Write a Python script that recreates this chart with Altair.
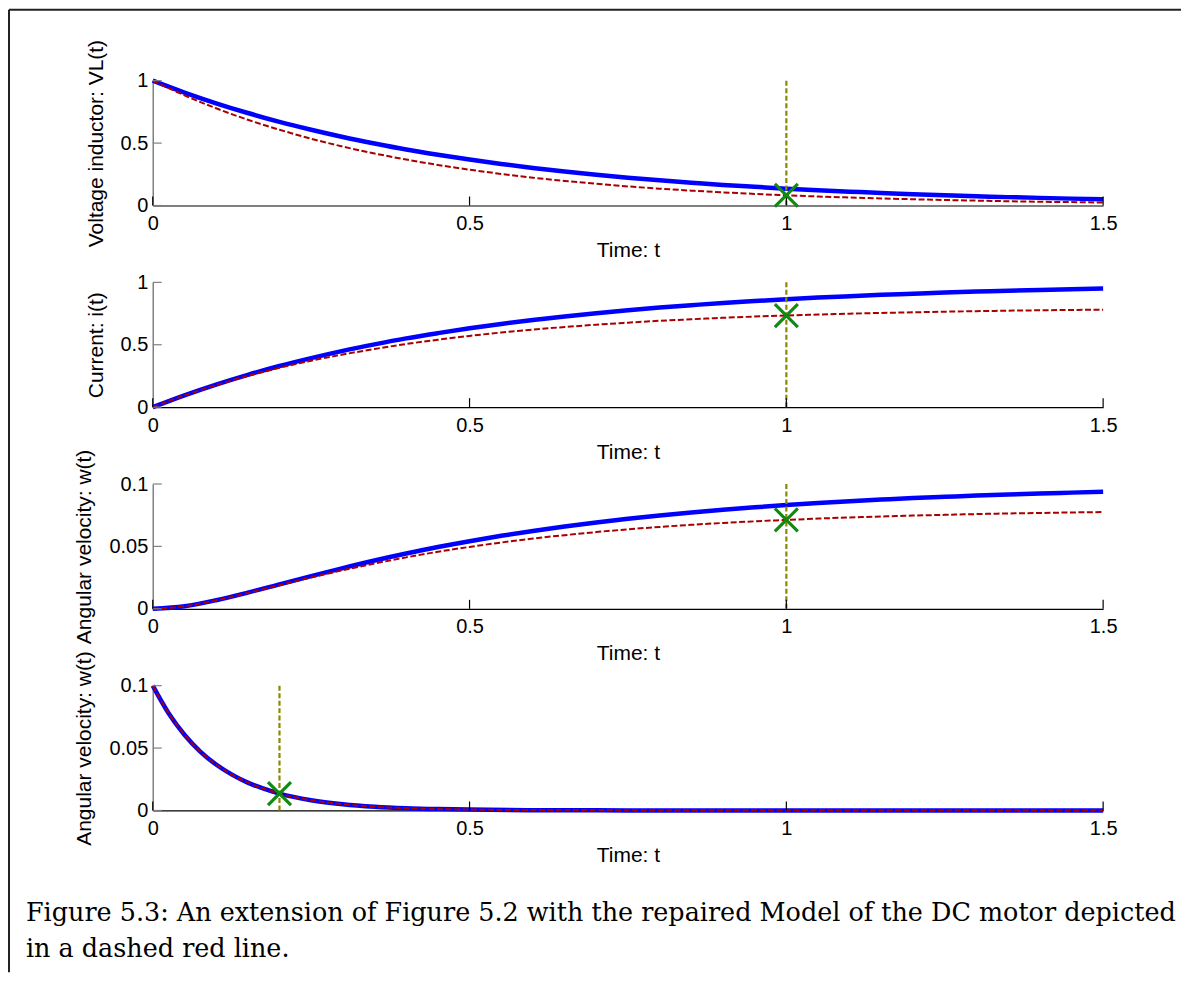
import altair as alt
import pandas as pd

# ---------------- data ----------------
t = [0.0, 0.05, 0.1, 0.15, 0.2, 0.25, 0.3, 0.35, 0.4, 0.45, 0.5, 0.55, 0.6, 0.65, 0.7,
     0.75, 0.8, 0.85, 0.9, 0.95, 1.0, 1.05, 1.1, 1.15, 1.2, 1.25, 1.3, 1.35, 1.4, 1.45, 1.5]

vl_blue = [1.000, 0.905, 0.819, 0.741, 0.670, 0.607, 0.549, 0.497, 0.449, 0.407, 0.368,
           0.333, 0.301, 0.273, 0.247, 0.223, 0.202, 0.183, 0.165, 0.150, 0.135, 0.122,
           0.111, 0.100, 0.091, 0.082, 0.074, 0.067, 0.061, 0.055, 0.050]
vl_red = [1.000, 0.883, 0.779, 0.687, 0.607, 0.535, 0.472, 0.417, 0.368, 0.325, 0.287,
          0.253, 0.223, 0.197, 0.174, 0.153, 0.135, 0.119, 0.105, 0.093, 0.082, 0.072,
          0.064, 0.056, 0.050, 0.044, 0.039, 0.034, 0.030, 0.027, 0.024]

i_blue = [0.000, 0.095, 0.181, 0.259, 0.330, 0.393, 0.451, 0.503, 0.551, 0.593, 0.632,
          0.667, 0.699, 0.727, 0.753, 0.777, 0.798, 0.817, 0.835, 0.850, 0.865, 0.878,
          0.889, 0.900, 0.909, 0.918, 0.926, 0.933, 0.939, 0.945, 0.950]
i_red = [0.000, 0.094, 0.177, 0.250, 0.315, 0.372, 0.422, 0.466, 0.506, 0.540, 0.571,
         0.598, 0.622, 0.642, 0.661, 0.677, 0.692, 0.704, 0.716, 0.726, 0.734, 0.742,
         0.749, 0.755, 0.760, 0.765, 0.769, 0.773, 0.776, 0.779, 0.781]

w_blue = [0.0000, 0.0021, 0.0069, 0.0130, 0.0196, 0.0262, 0.0326, 0.0387, 0.0443, 0.0495,
          0.0542, 0.0585, 0.0624, 0.0660, 0.0692, 0.0721, 0.0748, 0.0772, 0.0793, 0.0813,
          0.0831, 0.0847, 0.0862, 0.0875, 0.0887, 0.0897, 0.0907, 0.0916, 0.0924, 0.0931,
          0.0938]
w_red = [0.0000, 0.0020, 0.0067, 0.0126, 0.0189, 0.0251, 0.0309, 0.0363, 0.0412, 0.0457,
         0.0496, 0.0531, 0.0563, 0.0590, 0.0615, 0.0637, 0.0656, 0.0673, 0.0688, 0.0701,
         0.0712, 0.0723, 0.0732, 0.0740, 0.0747, 0.0753, 0.0759, 0.0764, 0.0768, 0.0772,
         0.0775]

t4 = [0.0, 0.025, 0.05, 0.075, 0.1, 0.125, 0.15, 0.175, 0.2, 0.25, 0.3, 0.35, 0.4, 0.45,
      0.5, 0.6, 0.7, 0.8, 1.0, 1.2, 1.5]
w2_blue = [0.1000, 0.0779, 0.0607, 0.0472, 0.0368, 0.0287, 0.0223, 0.0174, 0.0135, 0.0082,
           0.0050, 0.0030, 0.0018, 0.0011, 0.0007, 0.0002, 0.0001, 0.0000, 0.0000, 0.0000,
           0.0000]
w2_red = [0.1000, 0.0779, 0.0607, 0.0472, 0.0368, 0.0287, 0.0223, 0.0174, 0.0135, 0.0082,
          0.0050, 0.0030, 0.0018, 0.0011, 0.0007, 0.0002, 0.0001, 0.0000, 0.0000, 0.0000,
          0.0000]

y_titles = ["Voltage inductor: VL(t)", "Current: i(t)",
            "Angular velocity: w(t)", "Angular velocity: w(t)"]
y_max = [1.0, 1.0, 0.1, 0.1]
y_ticks = [[0, 0.5, 1], [0, 0.5, 1], [0, 0.05, 0.1], [0, 0.05, 0.1]]
x_ticks = [0, 0.5, 1, 1.5]
x_title = "Time: t"
cursor_t = [1.0, 1.0, 1.0, 0.2]
cursor_v = [0.082, 0.734, 0.0712, 0.0135]

caption = ("Figure 5.3: An extension of Figure 5.2 with the repaired Model of the DC motor depicted\n"
           "in a dashed red line.")

series_t = [t, t, t, t4]
series_blue = [vl_blue, i_blue, w_blue, w2_blue]
series_red = [vl_red, i_red, w_red, w2_red]

# ---------------- styling ----------------
W, H = 952, 125
SANS = "Liberation Sans"
BLUE = "#0000ff"
RED = "#a80000"
OLIVE = "#8a8a00"
GREEN = "#108a10"
AXIS_GRAY = "#808080"
X_SHAPE = "M-1,-1L1,1M-1,1L1,-1"


def panel(k):
    xs = alt.Scale(domain=[0, 1.5], nice=False)
    ys = alt.Scale(domain=[0, y_max[k]], nice=False)
    xax = alt.Axis(values=x_ticks, format="~g", title=x_title, ticks=False,
                   domainColor="black", domainWidth=1.2, labelFlush=False,
                   labelPadding=8, titlePadding=6, labelOverlap=False)
    yax = alt.Axis(values=y_ticks[k], format="~g", title=y_titles[k], ticks=False,
                   domainColor=AXIS_GRAY, domainWidth=1.5, labelPadding=5,
                   titlePadding=14, labelOverlap=False)
    X = alt.X("t:Q", scale=xs, axis=xax)
    Y = alt.Y("v:Q", scale=ys, axis=yax)

    blue_df = pd.DataFrame({"t": series_t[k], "v": series_blue[k]})
    red_df = pd.DataFrame({"t": series_t[k], "v": series_red[k]})

    blue = alt.Chart(blue_df).mark_line(
        color=BLUE, strokeWidth=4.5, interpolate="monotone"
    ).encode(x=X, y=Y)

    red = alt.Chart(red_df).mark_line(
        color=RED, strokeWidth=2, strokeDash=[6, 2.5], interpolate="monotone"
    ).encode(x=X, y=Y)

    ytick = alt.Chart(pd.DataFrame({"v": y_ticks[k]})).mark_rule(
        color=AXIS_GRAY, strokeWidth=1.2
    ).encode(y=Y, x=alt.value(0), x2=alt.value(9))

    xtick = alt.Chart(pd.DataFrame({"t": x_ticks})).mark_rule(
        color="black", strokeWidth=1.2
    ).encode(x=X, y=alt.value(H), y2=alt.value(H - 9))

    vline = alt.Chart(pd.DataFrame({"t": [cursor_t[k]], "v": [0.0], "v2": [y_max[k]]})).mark_rule(
        color=OLIVE, strokeWidth=2.2, strokeDash=[5, 2.5]
    ).encode(x=X, y=Y, y2="v2:Q")

    marker = alt.Chart(pd.DataFrame({"t": [cursor_t[k]], "v": [cursor_v[k]]})).mark_point(
        shape=X_SHAPE, size=529, filled=False, color=GREEN, strokeWidth=3.2, opacity=1
    ).encode(x=X, y=Y)

    layers = [blue, red, vline, ytick, xtick, marker]

    if k == 0:
        one = pd.DataFrame({"a": [0]})
        frame_left = alt.Chart(one).mark_rule(color="#222222", strokeWidth=2).encode(
            x=alt.value(-144), y=alt.value(-71), y2=alt.value(893))
        frame_top = alt.Chart(one).mark_rule(color="#222222", strokeWidth=2).encode(
            x=alt.value(-144), x2=alt.value(1030), y=alt.value(-71))
        layers += [frame_left, frame_top]
    if k == 3:
        cap = alt.Chart(pd.DataFrame({"c": [caption]})).mark_text(
            align="left", baseline="alphabetic", font="DejaVu Serif", fontSize=25.5,
            lineBreak="\n", lineHeight=36, color="black"
        ).encode(text="c:N", x=alt.value(-127), y=alt.value(236))
        layers.append(cap)

    return alt.layer(*layers).properties(width=W, height=H)


chart = alt.vconcat(*[panel(k) for k in range(4)], spacing=77, bounds="flush").configure_view(
    stroke=None
).configure_axis(
    grid=False, labelFont=SANS, titleFont=SANS, labelFontSize=20, titleFontSize=21,
    titleFontWeight="normal", labelColor="black", titleColor="black"
).properties(padding=0, background="white")

chart.save("out.html", embed_options={"renderer": "svg", "actions": False})
